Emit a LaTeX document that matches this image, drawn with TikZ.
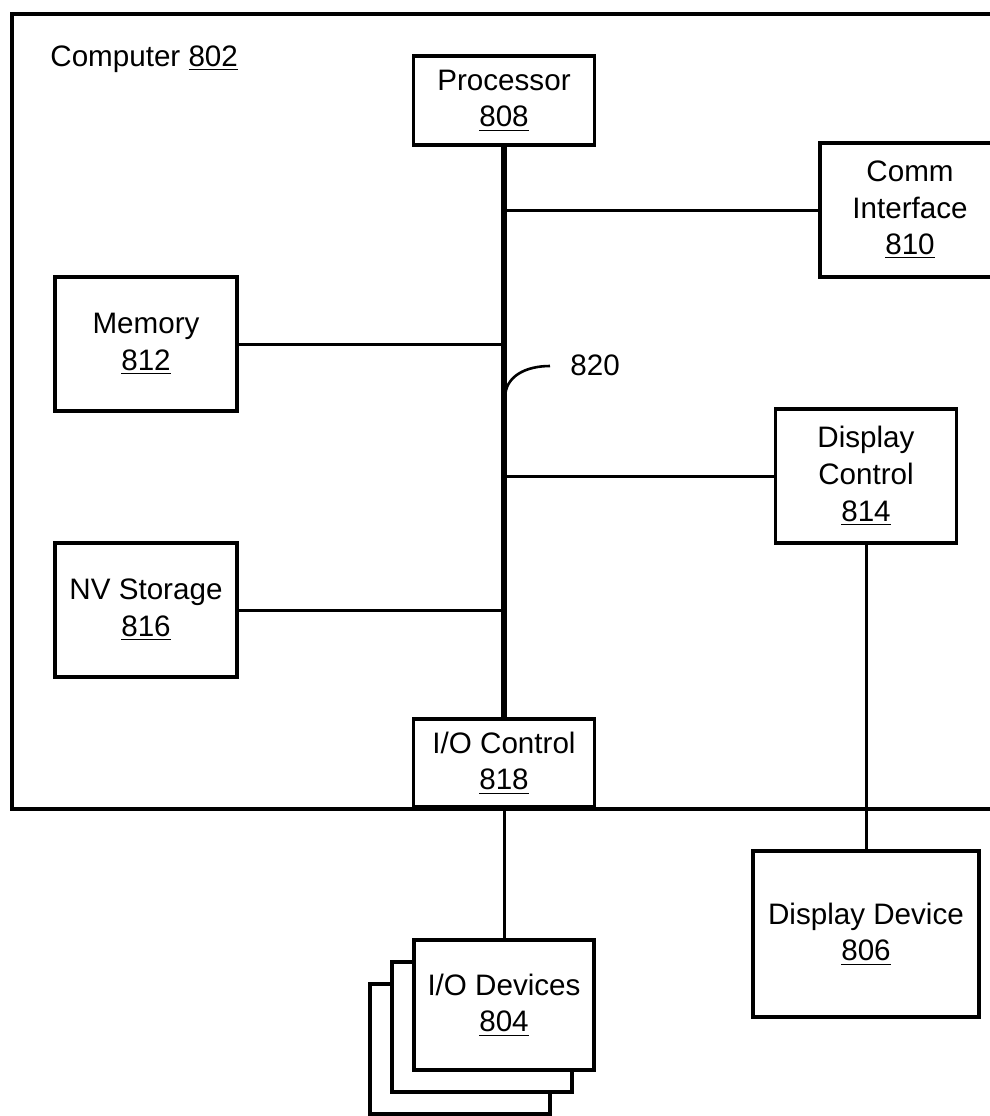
\documentclass[tikz,border=0pt]{standalone}
\usepackage{fontspec}
\setmainfont{Liberation Sans}
\begin{document}
\begin{tikzpicture}[x=0.5pt, y=-0.5pt,
		box/.style={shape=rectangle, draw, line width=1.8pt, fill=white, align=center, inner sep=0pt, font=\fontsize{14.8}{18.3}\selectfont},
		lbl/.style={inner sep=0pt, font=\fontsize{14.8}{18.3}\selectfont},
		wire/.style={line width=1.5pt},
		bus/.style={line width=3.4pt}]
	\useasboundingbox (0,0) rectangle (990,1116);
	\clip (0,0) rectangle (990,1116);

	% computer frame, right edge runs off the page
	\node[shape=rectangle, draw, line width=1.8pt, minimum width=497pt, minimum height=397.5pt, anchor=north west] (comp) at (10,12){};
	\node[lbl, anchor=base west] (complbl) at (50,66){Computer \underline{802}};

	\node[box, minimum width=90.5pt, minimum height=44.5pt] (cpu) at (504,100.5){Processor\\\underline{808}};
	\node[box, minimum width=90pt, minimum height=67pt] (comm) at (910,210){Comm\\Interface\\\underline{810}};
	\node[box, minimum width=91pt, minimum height=67pt] (mem) at (146,344){Memory\\\underline{812}};
	\node[box, minimum width=90.5pt, minimum height=67pt] (dctl) at (866,476){Display\\Control\\\underline{814}};
	\node[box, minimum width=91pt, minimum height=67pt] (nvs) at (146,610){NV Storage\\\underline{816}};
	\node[box, minimum width=90.5pt, minimum height=44pt] (ioctl) at (504,763){I/O Control\\\underline{818}};
	\node[box, minimum width=113pt, minimum height=83pt] (ddev) at (866,934){Display Device\\\underline{806}};

	% stacked i/o devices
	\node[box, minimum width=90pt, minimum height=65pt] (iodev3) at (460,1049){};
	\node[box, minimum width=90pt, minimum height=65pt] (iodev2) at (482,1027){};
	\node[box, minimum width=90pt, minimum height=65pt] (iodev1) at (504,1005){I/O Devices\\\underline{804}};

	\draw[bus] (cpu) to (ioctl);
	\draw[wire] (comm) to (comm -| cpu);
	\draw[wire] (mem) to (mem -| cpu);
	\draw[wire] (dctl) to (dctl -| cpu);
	\draw[wire] (nvs) to (nvs -| cpu);
	\draw[wire] (dctl) to (ddev);
	\draw[wire] (ioctl) to (iodev1);

	% bus label
	\coordinate (bustap) at (505,398);
	\coordinate (lbltap) at (550,366);
	\node[lbl, anchor=base west] (buslbl) at (570,375){820};
	\draw[line width=1.3pt] (bustap) .. controls +(0,-22) and +(-24,0) .. (lbltap);
\end{tikzpicture}
\end{document}
